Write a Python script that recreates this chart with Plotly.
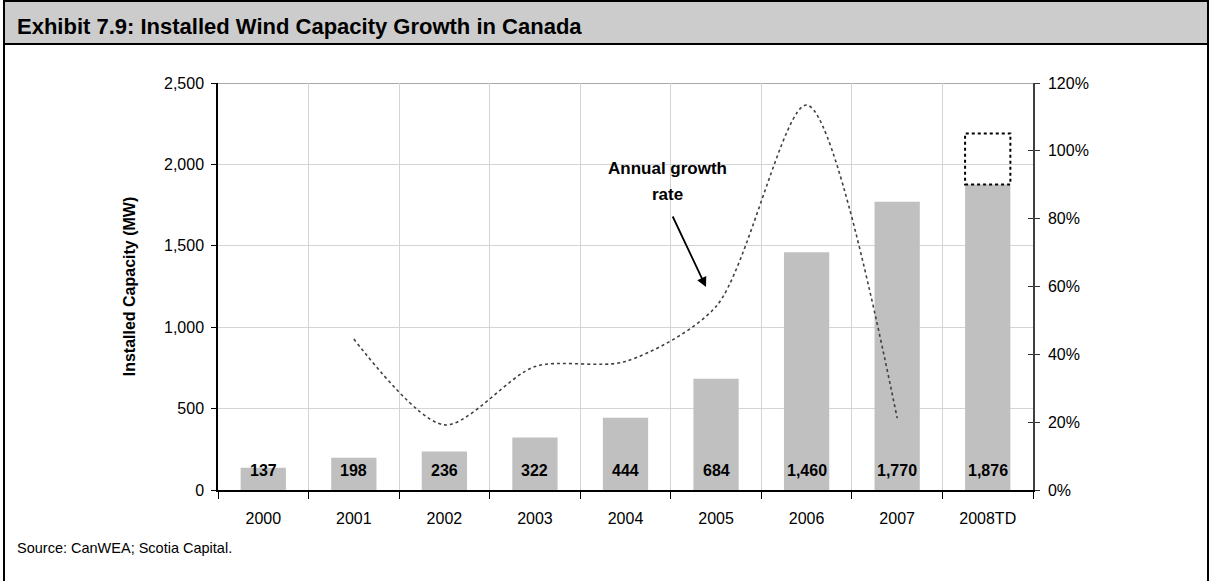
import plotly.graph_objects as go

years = ["2000", "2001", "2002", "2003", "2004", "2005", "2006", "2007", "2008TD"]
capacity = [137, 198, 236, 322, 444, 684, 1460, 1770, 1876]
label_text = ["137", "198", "236", "322", "444", "684", "1,460", "1,770", "1,876"]
growth_years = ["2001", "2002", "2003", "2004", "2005", "2006", "2007"]
growth_pct = [44.5, 19.2, 36.4, 37.9, 54.1, 113.5, 21.2]
projected_2008 = 2190
cap_max = 2500
pct_max = 120

FONT = "Liberation Sans, Arial, sans-serif"

L, R, T, B = 218, 1033, 83, 490
W, H = 1212, 581
def px(xp):
    return (xp - L) / (R - L)
def py(yp):
    return (B - yp) / (B - T)
def cat_x(xp):
    return (xp - L) / (R - L) * len(years) - 0.5
def pct_y(yp):
    return (B - yp) / (B - T) * pct_max

fig = go.Figure()
fig.add_trace(go.Bar(x=years, y=capacity, marker=dict(color="#C0C0C0", line=dict(width=0)),
                     width=0.5, yaxis="y", hoverinfo="skip"))
fig.add_trace(go.Scatter(x=growth_years, y=growth_pct, mode="lines", yaxis="y2",
                         line=dict(color="#404040", width=1.6, dash="dot", shape="spline", smoothing=0.8),
                         hoverinfo="skip"))
fig.add_trace(go.Scatter(x=[years[0]], y=[0], yaxis="y3", mode="markers",
                         marker=dict(opacity=0), hoverinfo="skip"))

annotations = []
for i, t in enumerate(label_text):
    annotations.append(dict(x=i, y=0, xref="x", yref="y", text="<b>%s</b>" % t, showarrow=False,
                            yanchor="middle", yshift=20, font=dict(family=FONT, size=16, color="black")))

# arrow (head at growth curve), text placed separately
annotations.append(dict(x=cat_x(706), y=pct_y(287), xref="x", yref="y2", text="", showarrow=True,
                        ax=-34, ay=-72, arrowhead=2, arrowsize=1.1, arrowwidth=1.8, arrowcolor="black"))
annotations.append(dict(x=cat_x(667), y=pct_y(168), xref="x", yref="y2", text="<b>Annual growth</b>",
                        showarrow=False, font=dict(family=FONT, size=17, color="black")))
annotations.append(dict(x=cat_x(667), y=pct_y(194), xref="x", yref="y2", text="<b>rate</b>",
                        showarrow=False, font=dict(family=FONT, size=17, color="black")))

annotations.append(dict(x=px(15), y=py(27), xref="paper", yref="paper", xanchor="left", yanchor="middle",
                        text="<b>Exhibit 7.9: Installed Wind Capacity Growth in Canada</b>", showarrow=False,
                        font=dict(family=FONT, size=22, color="black")))
annotations.append(dict(x=px(15), y=py(548), xref="paper", yref="paper", xanchor="left", yanchor="middle",
                        text="Source: CanWEA; Scotia Capital.", showarrow=False,
                        font=dict(family=FONT, size=14.5, color="black")))

bar_idx = len(years) - 1
shapes = [
    dict(type="rect", xref="paper", yref="paper", x0=px(4), x1=px(1208), y0=py(1), y1=py(44),
         fillcolor="#CCCCCC", line=dict(color="black", width=2), layer="below"),
    dict(type="rect", xref="paper", yref="paper", x0=px(4), x1=px(1208), y0=py(1), y1=py(590),
         fillcolor="rgba(0,0,0,0)", line=dict(color="black", width=2), layer="above"),
    dict(type="line", xref="paper", yref="y", x0=0, x1=1, y0=cap_max, y1=cap_max,
         line=dict(color="#8C8C8C", width=1.5), layer="below"),
    dict(type="rect", xref="x", yref="y", x0=bar_idx - 0.25, x1=bar_idx + 0.25,
         y0=capacity[-1], y1=projected_2008, line=dict(color="black", width=2, dash="dot"),
         fillcolor="rgba(0,0,0,0)"),
]

fig.update_layout(
    width=W, height=H,
    margin=dict(l=L, r=W - R, t=T, b=H - B, autoexpand=False),
    paper_bgcolor="white", plot_bgcolor="white",
    showlegend=False, hovermode=False,
    font=dict(family=FONT, size=16, color="black"),
    xaxis=dict(type="category", range=[-0.5, len(years) - 0.5], autorange=False,
               tickson="boundaries", ticks="outside", ticklen=7, tickcolor="black",
               showline=True, linecolor="black", linewidth=1.5, showgrid=True, gridcolor="#D4D4D4",
               gridwidth=1, tickangle=0, ticklabelstandoff=13,
               tickfont=dict(family=FONT, size=16, color="black")),
    yaxis=dict(range=[0, cap_max], autorange=False, dtick=500, tickformat=",", ticks="outside", ticklen=5,
               tickcolor="black", showline=True, linecolor="black", linewidth=1.5, showgrid=True,
               gridcolor="#D4D4D4", zeroline=False, ticklabelstandoff=4, automargin=False,
               tickfont=dict(family=FONT, size=16, color="black"),
               title=dict(text="<b>Installed Capacity (MW)</b>", font=dict(family=FONT, size=16, color="black"),
                          standoff=24)),
    yaxis2=dict(range=[0, pct_max], autorange=False, dtick=20, ticksuffix="%", overlaying="y", side="right",
                anchor="x", ticks="outside", ticklen=5, tickcolor="#303030", showline=True,
                linecolor="#404040", linewidth=1.5, showgrid=False, zeroline=False,
                ticklabelstandoff=5, tickfont=dict(family=FONT, size=16, color="black")),
    yaxis3=dict(range=[0, pct_max], autorange=False, dtick=20, overlaying="y", side="right", anchor="x",
                ticks="inside", ticklen=5, tickcolor="#303030", showticklabels=False, showline=False,
                showgrid=False, zeroline=False),
    annotations=annotations,
    shapes=shapes,
)

fig.write_html("out.html", config={"displayModeBar": False},
               post_script="document.body.style.margin='0';document.body.style.overflow='hidden';")
